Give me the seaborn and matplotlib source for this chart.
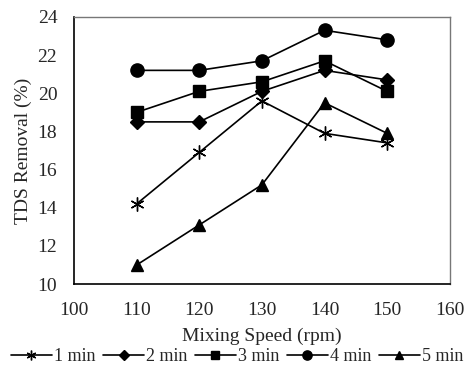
import pandas as pd
import seaborn as sns
import matplotlib.pyplot as plt

speed = [110, 120, 130, 140, 150]
times = ["1 min", "2 min", "3 min", "4 min", "5 min"]
min1 = [14.2, 16.9, 19.6, 17.9, 17.4]
min2 = [18.5, 18.5, 20.1, 21.2, 20.7]
min3 = [19.0, 20.1, 20.6, 21.7, 20.1]
min4 = [21.2, 21.2, 21.7, 23.3, 22.8]
min5 = [11.0, 13.1, 15.2, 19.5, 17.9]

rows = []
for t, vals in zip(times, [min1, min2, min3, min4, min5]):
    for s, v in zip(speed, vals):
        rows.append({"speed": s, "removal": v, "time": t})
df = pd.DataFrame(rows)

sns.set_style("white")
plt.rcParams['font.family'] = ['Liberation Serif', 'DejaVu Serif']

fig, ax = plt.subplots(figsize=(4.74, 3.68), dpi=100)
fig.subplots_adjust(left=0.156, right=0.949, top=0.954, bottom=0.228)

markers = {"1 min": (6, 2, 0), "2 min": "D", "3 min": "s", "4 min": "o", "5 min": "^"}
sizes = {"1 min": 10, "2 min": 7, "3 min": 9, "4 min": 9.5, "5 min": 9}

for t in times:
    sub = df[df["time"] == t]
    sns.lineplot(data=sub, x="speed", y="removal", ax=ax, color="black",
                 marker=markers[t], markersize=sizes[t], linewidth=1.2,
                 markeredgewidth=1.0, markeredgecolor="black",
                 markerfacecolor="black", label=t, legend=False)

ax.set_xlim(100, 160)
ax.set_ylim(10, 24)
ax.set_xticks(range(100, 161, 10))
ax.set_yticks(range(10, 25, 2))
ax.tick_params(axis="both", length=0, labelsize=14)
ax.tick_params(axis="x", pad=13)
ax.tick_params(axis="y", pad=12)
ax.set_xlabel("Mixing Speed (rpm)", fontsize=14, va="center")
ax.xaxis.set_label_coords(0.5, -0.197)
ax.set_ylabel("TDS Removal (%)", fontsize=14, labelpad=4)

for side in ["left", "bottom"]:
    ax.spines[side].set_color("black")
    ax.spines[side].set_linewidth(1.2)
for side in ["top", "right"]:
    ax.spines[side].set_color("#777777")
    ax.spines[side].set_linewidth(1.0)

handles, labels = ax.get_legend_handles_labels()
fig.legend(handles, labels, loc="center", ncol=5, frameon=False,
           fontsize=13, handlelength=2.3, handletextpad=0.1,
           columnspacing=0.4, markerscale=0.7,
           bbox_to_anchor=(0.5, 0.03), borderaxespad=0, borderpad=0)

fig.savefig("out.png", dpi=100)
